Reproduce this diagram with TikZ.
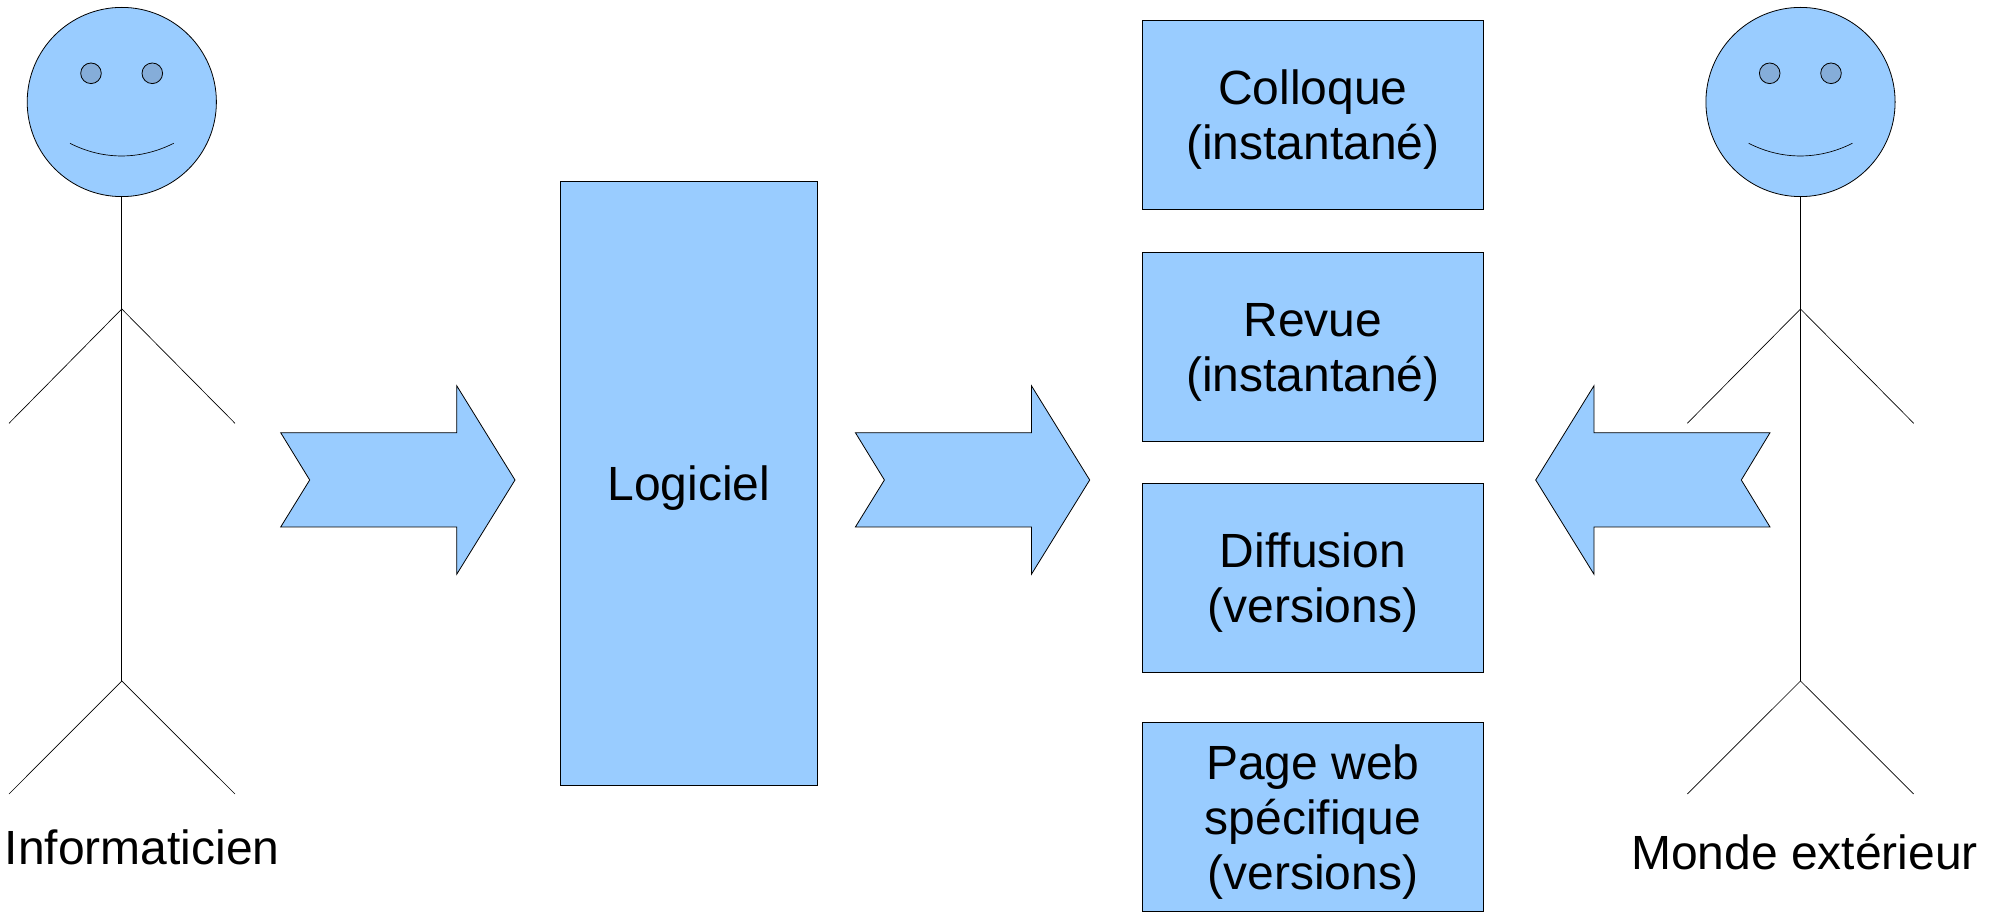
\documentclass[tikz,border=0pt]{standalone}
\usepackage{fontspec}
\setmainfont{Liberation Sans}
\definecolor{shapeblue}{RGB}{153,204,255}
\definecolor{eyeblue}{RGB}{133,173,217}
\newcommand{\toprow}{\rule{0pt}{33.7pt}}
\tikzset{
	blueshape/.style={draw=black,line width=0.6pt,fill=shapeblue,line join=miter},
	limb/.style={draw=black,line width=0.5pt},
	eyedot/.style={draw=black,line width=0.6pt,fill=eyeblue},
	textbox/.style={blueshape,inner sep=0pt,align=center,font=\fontsize{36}{41.25}\selectfont},
	caption/.style={inner sep=0pt,font=\fontsize{36}{41.25}\selectfont}
}
\begin{document}
\begin{tikzpicture}[x=0.75pt,y=0.75pt,yscale=-1,xscale=1]
	\useasboundingbox (0,0) rectangle (2003,912);
	
	% Left figure
	\draw [blueshape] (121.8,102) circle (94.6);
	\draw [eyedot] (91,73.3) circle (10.3);
	\draw [eyedot] (152.3,73.3) circle (10.3);
	\draw [limb] (70,143.3) .. controls (103,160.2) and (140,160.2) .. (173.7,143.3);
	\draw [limb] (121.8,196.6) -- (121.8,681);
	\draw [limb] (9,423.3) -- (121.8,309) -- (235,423.3);
	\draw [limb] (9,794) -- (121.8,681) -- (235,794);
	% Right figure
	\draw [blueshape] (1800.5,102) circle (94.6);
	\draw [eyedot] (1769.7,73.3) circle (10.3);
	\draw [eyedot] (1831,73.3) circle (10.3);
	\draw [limb] (1748.7,143.3) .. controls (1781.7,160.2) and (1818.7,160.2) .. (1852.4,143.3);
	\draw [limb] (1800.5,196.6) -- (1800.5,681);
	\draw [limb] (1687.3,423.3) -- (1800.5,309) -- (1913.7,423.3);
	\draw [limb] (1687.3,794) -- (1800.5,681) -- (1913.7,794);
	
	% Arrow
	\draw [blueshape] (280.7,432.7) -- (456.7,432.7) -- (456.7,385.7) -- (515,480) -- (456.7,574.3) -- (456.7,527) -- (280.7,527) -- (309.7,480) -- cycle;
	% Arrow
	\draw [blueshape] (855.4,432.7) -- (1031.4,432.7) -- (1031.4,385.7) -- (1089.7,480) -- (1031.4,574.3) -- (1031.4,527) -- (855.4,527) -- (884.4,480) -- cycle;
	% Arrow
	\draw [blueshape] (1770,432.7) -- (1594,432.7) -- (1594,385.7) -- (1535.7,480) -- (1594,574.3) -- (1594,527) -- (1770,527) -- (1741.3,480) -- cycle;
	
	% Text Node
	\node [textbox,minimum width=193.2pt,minimum height=453.5pt] (logiciel) at (688.8,483.3) {\toprow Logiciel};
	% Text Node
	\node [textbox,minimum width=255.6pt,minimum height=141.7pt] (colloque) at (1312.8,114.5) {\toprow Colloque\\(instantané)};
	% Text Node
	\node [textbox,minimum width=255.6pt,minimum height=141.7pt] (revue) at (1312.8,346.5) {\toprow Revue\\(instantané)};
	% Text Node
	\node [textbox,minimum width=255.6pt,minimum height=141.7pt] (diffusion) at (1312.8,578) {\toprow Diffusion\\(versions)};
	% Text Node
	\node [textbox,minimum width=255.6pt,minimum height=141.7pt] (pageweb) at (1312.8,817.3) {\toprow Page web\\spécifique\\(versions)};
	% Text Node
	\node [caption] (informaticien) at (142.3,847) {Informaticien};
	% Text Node
	\node [caption] (monde) at (1804.5,852) {Monde extérieur};
	
\end{tikzpicture}
\end{document}
